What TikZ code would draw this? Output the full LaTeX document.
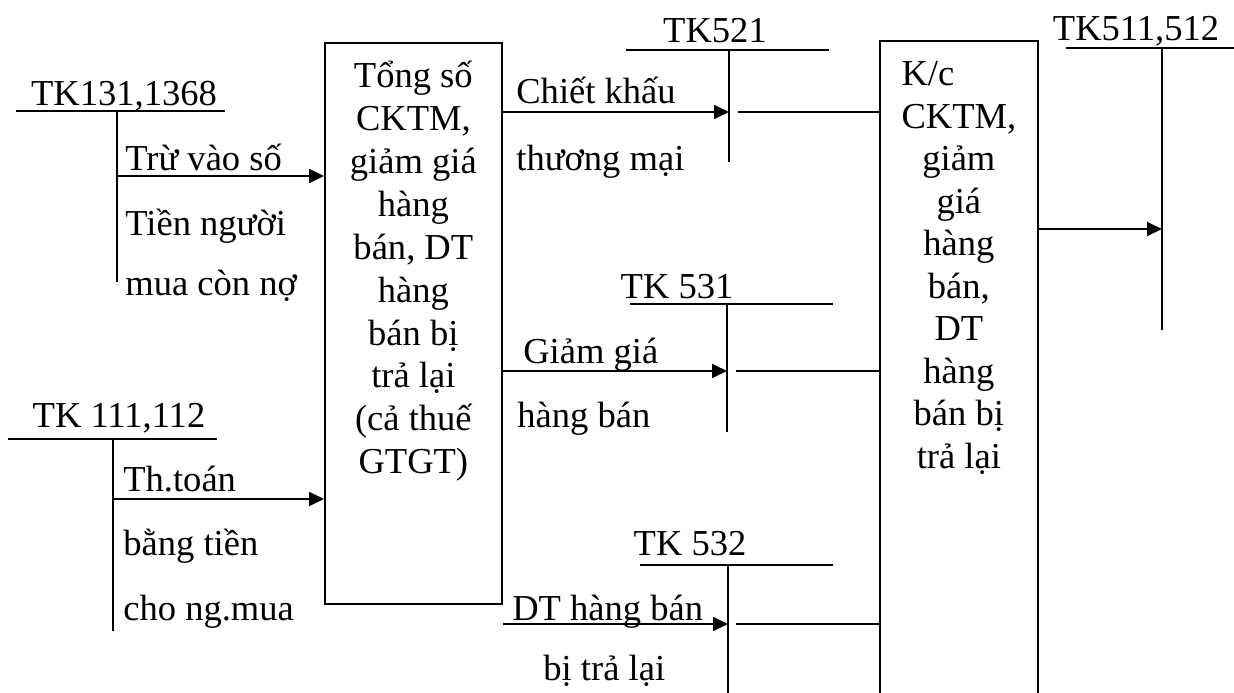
\documentclass[tikz,border=0pt]{standalone}
\usepackage{fontspec}
\setmainfont{Liberation Serif}
\usetikzlibrary{arrows.meta,positioning,calc}

\begin{document}
\begin{tikzpicture}[
  x=0.02cm, y=-0.02cm,
  font=\fontsize{20.8}{24.4}\selectfont,
  line/.style={line width=1pt},
  arr/.style={line, -{Triangle[length=3mm, width=2.8mm]}},
  acct/.style={rectangle, draw, line width=1pt, inner sep=0pt},
  boxtext/.style={inner sep=0pt, align=center},
  tk/.style={inner sep=0pt, anchor=base},
  note/.style={inner sep=0pt, anchor=base west},
]
  \useasboundingbox (0,0) rectangle (1234,693);

  % boxes
  \node[acct, minimum width=3.54cm, minimum height=11.22cm, anchor=north west] (tong) at (324,42) {};
  \node[acct, minimum width=3.16cm, minimum height=13.6cm, anchor=north west] (kc) at (879,40) {};
  \node[boxtext, anchor=north] (tongtxt) at (tong.north |- 0,61) {Tổng số\\CKTM,\\giảm giá\\hàng\\bán, DT\\hàng\\bán bị\\trả lại\\(cả thuế\\GTGT)};
  \node[boxtext, anchor=north, font=\fontsize{20.8}{24.2}\selectfont] (kctxt) at (kc.north |- 0,61) {\rlap{K/c}\phantom{CKTM,}\\CKTM,\\giảm\\giá\\hàng\\bán,\\DT\\hàng\\bán bị\\trả lại};

  % TK131,1368
  \coordinate (t131) at (117,111);
  \coordinate (c131) at (117,176);
  \draw[line] (16,111) -- (225,111);
  \node[tk] (l131) at (124,105) {TK131,1368};
  \draw[line] (t131) -- ++(0,171);
  \draw[arr] (c131) -- (c131 -| tong.west);
  \node[note] (n131a) at (125,170) {Trừ vào số};
  \node[note] (n131b) at (125,235) {Tiền người};
  \node[note] (n131c) at (125,295) {mua còn nợ};

  % TK 111,112
  \coordinate (t111) at (113,439);
  \coordinate (c111) at (113,499);
  \draw[line] (8,439) -- (217,439);
  \node[tk] (l111) at (119,427) {TK 111,112};
  \draw[line] (t111) -- ++(0,192);
  \draw[arr] (c111) -- (c111 -| tong.west);
  \node[note] (n111a) at (123,491) {Th.toán};
  \node[note] (n111b) at (123,555) {bằng tiền};
  \node[note] (n111c) at (123,620) {cho ng.mua};

  % TK521
  \coordinate (t521) at (729,50);
  \coordinate (c521) at (729,112);
  \draw[line] (626,50) -- (829,50);
  \node[tk] (l521) at (715,42) {TK521};
  \draw[line] (t521) -- ++(0,112);
  \draw[arr] (c521 -| tong.east) -- (c521);
  \draw[line] ([xshift=0.18cm]c521) -- (c521 -| kc.west);
  \node[note] (n521a) at (516,103) {Chiết khấu};
  \node[note] (n521b) at (516,170) {thương mại};

  % TK 531
  \coordinate (t531) at (727,304);
  \coordinate (c531) at (727,371);
  \draw[line] (630,304) -- (833,304);
  \node[tk] (l531) at (677,298) {TK 531};
  \draw[line] (t531) -- ++(0,128);
  \draw[arr] (c531 -| tong.east) -- (c531);
  \draw[line] ([xshift=0.18cm]c531) -- (c531 -| kc.west);
  \node[note] (n531a) at (523,363) {Giảm giá};
  \node[note] (n531b) at (517,427) {hàng bán};

  % TK 532
  \coordinate (t532) at (728,565);
  \coordinate (c532) at (728,624);
  \draw[line] (640,565) -- (833,565);
  \node[tk] (l532) at (690,555) {TK 532};
  \draw[line] (t532) -- ++(0,140);
  \draw[arr] (c532 -| tong.east) -- (c532);
  \draw[line] ([xshift=0.16cm]c532) -- (c532 -| kc.west);
  \node[note] (n532a) at (512,620) {DT hàng bán};
  \node[note] (n532b) at (543,680) {bị trả lại};

  % TK511,512
  \coordinate (t511) at (1162,48);
  \coordinate (c511) at (1162,229);
  \draw[line] (1066,48) -- (1240,48);
  \node[tk] (l511) at (1136,40) {TK511,512};
  \draw[line] (t511) -- ++(0,282);
  \draw[arr] (c511 -| kc.east) -- (c511);
\end{tikzpicture}
\end{document}
